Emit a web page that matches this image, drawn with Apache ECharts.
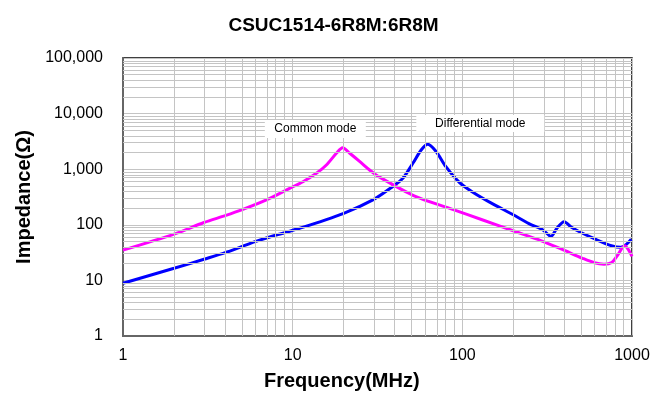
<!DOCTYPE html>
<html><head><meta charset="utf-8">
<script src="https://cdn.jsdelivr.net/npm/echarts@6/dist/echarts.min.js"></script>
<style>html,body{margin:0;padding:0;background:#fff}#c{width:667px;height:400px}</style>
</head><body><div id="c"></div>
<script>
// Common mode (magenta)
const cmFreq = [1, 2, 3, 4, 5, 7, 9.6, 11.5, 13.8, 15.8, 18.1, 19.7, 21.7, 24.9, 28.4, 32.5, 53.3, 84.2, 132, 207, 290, 388, 511, 600, 684, 760, 820, 905, 950, 1000];
const cmImp  = [35, 68, 110, 146, 185, 280, 453, 596, 843, 1190, 1933, 2440, 1933, 1365, 968, 720, 320, 198, 122, 75, 52, 36, 25, 20.8, 19.6, 21, 28, 42, 36, 27];
// Differential mode (blue)
const dmFreq = [1, 2, 3, 4, 5, 6, 8, 11, 20, 29.7, 38.6, 44.6, 51.1, 57.2, 62.6, 70.2, 80, 96, 114.7, 152, 197, 247, 300, 333, 360, 398, 440, 490, 609, 765, 860, 930, 990];
const dmImp  = [8.9, 16.5, 24, 31.5, 40.4, 49.7, 65.6, 86.5, 161, 280, 480, 686, 1277, 2215, 2805, 2065, 1110, 580, 390, 235, 155, 105, 80, 62, 86, 114, 90, 75, 55, 41.6, 39.4, 45, 55];
const xTickLabels = ['1', '10', '100', '1000'];
const yTickLabels = ['1', '10', '100', '1,000', '10,000', '100,000'];
const seriesNames = ['Differential mode', 'Common mode'];
const titleText = 'CSUC1514-6R8M:6R8M';
const xName = 'Frequency(MHz)';
const yName = 'Impedance(Ω)';

const FONT = "'Liberation Sans', Arial, sans-serif";
const L = Math.log10;
// both axes are logarithmic: plot log10 of the values on linear value axes
const pair = (xs, ys) => xs.map((x, i) => [L(x), L(ys[i])]);

// minor gridlines at 2..9 of each decade
const xMinor = [], yMinor = [];
for (let d = 1; d < 1000; d *= 10) for (let k = 2; k <= 9; k++) xMinor.push(L(k * d));
for (let d = 1; d < 100000; d *= 10) for (let k = 2; k <= 9; k++) yMinor.push(L(k * d));

const gridLineStyle = { color: '#c4c4c4', width: 1, type: 'solid' };

const chart = echarts.init(document.getElementById('c'), null, { renderer: 'canvas' });
chart.setOption({
  animation: false,
  backgroundColor: '#fff',
  title: {
    text: titleText, left: 'center', top: 11,
    textStyle: { fontFamily: FONT, fontSize: 19, fontWeight: 'bold', color: '#000' }
  },
  grid: { left: 123, right: 35, top: 58, bottom: 64, show: true, borderColor: '#000', borderWidth: 1.5 },
  xAxis: {
    type: 'value', min: 0, max: 3, interval: 1,
    axisLine: { show: true, lineStyle: { color: '#666', width: 2 } },
    axisTick: { show: false },
    splitLine: { show: true, lineStyle: gridLineStyle },
    axisLabel: {
      fontFamily: FONT, fontSize: 16, color: '#000', margin: 12,
      formatter: v => xTickLabels[Math.round(v)]
    }
  },
  yAxis: {
    type: 'value', min: 0, max: 5, interval: 1,
    name: yName, nameLocation: 'middle', nameGap: 89,
    nameTextStyle: { fontFamily: FONT, fontSize: 20, fontWeight: 'bold', color: '#000' },
    axisLine: { show: true, lineStyle: { color: '#666', width: 2 } },
    axisTick: { show: false },
    splitLine: { show: true, lineStyle: gridLineStyle },
    axisLabel: {
      fontFamily: FONT, fontSize: 16, color: '#000', margin: 20,
      formatter: v => yTickLabels[Math.round(v)]
    }
  },
  graphic: [
    { type: 'text', left: 264, top: 371,
      style: { text: xName, fontFamily: FONT, fontSize: 20, fontWeight: 'bold', fill: '#000' } }
  ],
  series: [
    {
      type: 'line', name: 'grid', data: [[0, 0]], showSymbol: false, silent: true,
      lineStyle: { opacity: 0 }, z: 1,
      markLine: {
        silent: true, symbol: 'none', label: { show: false }, animation: false,
        lineStyle: gridLineStyle,
        data: xMinor.map(v => ({ xAxis: v })).concat(yMinor.map(v => ({ yAxis: v })))
      }
    },
    {
      type: 'line', name: seriesNames[0], data: pair(dmFreq, dmImp), smooth: 0.3,
      showSymbol: false, lineStyle: { color: '#0000FF', width: 3 }, itemStyle: { color: '#0000FF' }, z: 3,
      markPoint: {
        symbol: 'rect', symbolSize: [128, 17], itemStyle: { color: '#fff' },
        label: { show: true, color: '#000', fontFamily: FONT, fontSize: 12, formatter: seriesNames[0] },
        data: [{ coord: [L(127.6), L(6640)] }]
      }
    },
    {
      type: 'line', name: seriesNames[1], data: pair(cmFreq, cmImp), smooth: 0.3,
      showSymbol: false, lineStyle: { color: '#FF00FF', width: 3 }, itemStyle: { color: '#FF00FF' }, z: 4,
      markPoint: {
        symbol: 'rect', symbolSize: [101, 18], itemStyle: { color: '#fff' },
        label: { show: true, color: '#000', fontFamily: FONT, fontSize: 12, formatter: seriesNames[1] },
        data: [{ coord: [L(13.6), L(5285)] }]
      }
    }
  ]
});
</script>
</body></html>
